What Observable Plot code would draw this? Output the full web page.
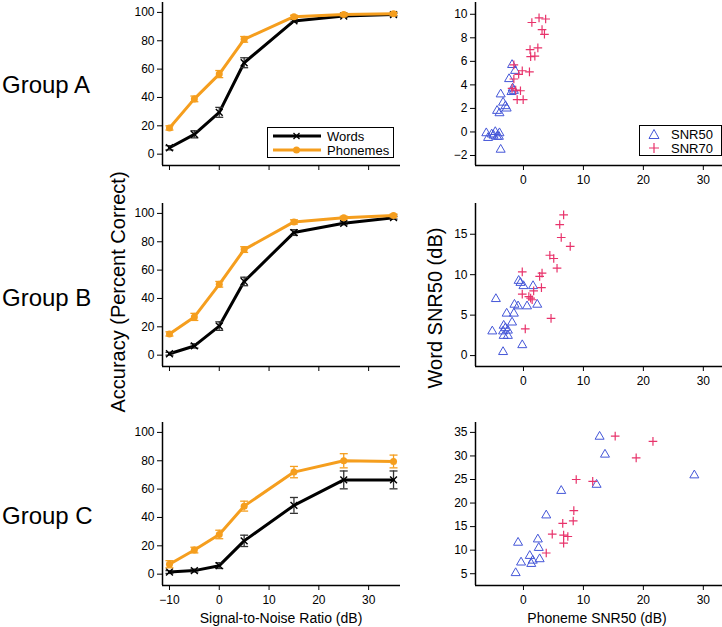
<!DOCTYPE html>
<html><head><meta charset="utf-8">
<script src="https://cdn.jsdelivr.net/npm/d3@7"></script>
<script src="https://cdn.jsdelivr.net/npm/@observablehq/plot@0.6"></script>
<style>
body{margin:0;background:#fff;font-family:"Liberation Sans",Arial,sans-serif;}
#wrap{position:relative;width:722px;height:627px;overflow:hidden;background:#fff;}
.panel{position:absolute;}
.lbl{position:absolute;color:#000;white-space:nowrap;line-height:1;}
.legend{position:absolute;border:1.5px solid #000;background:#fff;box-sizing:border-box;font-size:13px;}
.legend .row{display:flex;align-items:center;height:14px;}
</style></head><body><div id="wrap"></div>
<script>
// ---------- data ----------
const snr = [-10, -5, 0, 5, 15, 25, 35];
const groupNames = ["Group A", "Group B", "Group C"];

const wordsA = [4.5, 14, 29.5, 64.5, 94, 97.5, 98.5];
const wordsErrA = [1.5, 2.5, 3.5, 3.5, 1, 1, 1];
const phonA = [18.5, 39, 56.5, 81, 97, 98.5, 99];
const phonErrA = [1.5, 2, 2.5, 2, 1, 1, 1];

const wordsB = [1, 6.5, 20.5, 52, 86.5, 93, 97];
const wordsErrB = [1, 1.5, 3, 3, 2, 1, 1];
const phonB = [15, 27, 50, 74.5, 94, 97, 98.5];
const phonErrB = [1.5, 2.5, 2, 2, 1.5, 1, 1];

const wordsC = [1.5, 2.5, 6, 23.5, 48.5, 66.5, 66.5];
const wordsErrC = [1, 1, 2, 4, 5.6, 6.3, 6.3];
const phonC = [7, 17, 28, 48, 72, 80, 79.5];
const phonErrC = [2.5, 2, 3, 3.5, 4, 5, 4.5];

// Right column: phoneme SNR50 (x) vs word SNR (y)
const aSnr50X = [-6.2, -5.9, -5.3, -5.0, -4.7, -4.4, -4.1, -4.0, -3.8, -4.4, -4.0, -3.4, -3.0, -2.8, -3.8, -2.4, -1.8, -1.6, -2.0, -1.9, -1.4];
const aSnr50Y = [-0.1, -0.5, -0.2, -0.3, 0.0, -0.4, -0.4, -0.1, -1.5, 1.8, 1.6, 2.5, 2.2, 2.0, 3.2, 4.5, 3.7, 3.5, 3.4, 5.7, 5.2];
const aSnr70X = [1.4, 2.6, 3.7, 3.1, 3.5, 1.1, 2.4, 1.2, 1.9, -1.6, -0.2, 1.0, -0.8, -1.6, -1.9, -0.5, -1.05, -0.05, -1.3];
const aSnr70Y = [9.3, 9.7, 9.6, 8.7, 8.3, 7.0, 7.15, 6.4, 6.45, 5.7, 5.2, 5.1, 4.9, 4.5, 3.7, 3.5, 2.75, 2.75, 3.55];

const bSnr50X = [-4.6, -5.2, -3.4, -0.2, -2.8, -1.6, -1.9, -3.3, -3.0, -3.4, -2.6, -3.3, -2.6, -1.5, -0.9, 0.6, 2.3, -0.8, -0.5, 0.0, 1.6];
const bSnr50Y = [7.0, 3.0, 0.45, 1.3, 5.2, 5.2, 4.1, 3.7, 3.4, 3.0, 3.1, 2.45, 2.45, 6.3, 6.1, 6.1, 6.3, 9.25, 9.0, 8.6, 8.6];
const bSnr70X = [6.7, 6.05, 6.3, 7.8, 4.4, 5.05, 5.6, -0.2, 3.1, 2.7, 3.0, 1.7, -0.2, 0.9, 1.2, 1.45, 4.6, 0.3];
const bSnr70Y = [17.4, 16.2, 14.6, 13.5, 12.4, 12.0, 10.8, 10.35, 10.2, 9.8, 8.4, 8.0, 7.6, 7.3, 7.1, 6.9, 4.6, 3.3];

const cSnr50X = [12.7, 13.6, 28.5, 12.2, 6.3, 3.8, -0.9, 2.4, 2.55, 1.05, 1.55, 2.7, 1.3, -0.4, -1.3];
const cSnr50Y = [34.1, 30.3, 25.9, 23.9, 22.6, 17.4, 11.6, 12.3, 10.5, 8.8, 7.8, 8.1, 7.1, 7.4, 5.15];
const cSnr70X = [15.3, 21.6, 18.8, 8.8, 11.55, 8.4, 8.3, 6.55, 4.8, 6.7, 7.4, 6.7, 3.8];
const cSnr70Y = [34.2, 33.1, 29.6, 25.0, 24.6, 18.4, 16.2, 15.7, 13.4, 13.2, 12.9, 11.5, 9.4];

// axis ticks / domains
const leftXTicks = [-10, 0, 10, 20, 30];
const leftYTicks = [0, 20, 40, 60, 80, 100];
const rightXTicks = [0, 10, 20, 30];
const rightYTicksA = [-2, 0, 2, 4, 6, 8, 10];
const rightYTicksB = [0, 5, 10, 15];
const rightYTicksC = [5, 10, 15, 20, 25, 30, 35];
const leftXDomain = [-11.4, 36.4];
const leftYDomain = [-8, 107];
const rightXDomain = [-8, 33.2];
const rightYDomainA = [-2.85, 11];
const rightYDomainB = [-1.35, 18.8];
const rightYDomainC = [2.5, 37.1];

// ---------- styling ----------
const ORANGE = "#F59E1E";
const BLUE = "#4456D8";
const PINK = "#E8336B";
const FONT = "'Liberation Sans', Arial, sans-serif";
const cap = {draw(ctx, size) { const w = Math.sqrt(size / Math.PI); ctx.moveTo(-w, 0); ctx.lineTo(w, 0); }};

const rowTops = [-4, 197, 416];
const wrap = document.getElementById("wrap");

function place(node, left, top) {
  node.classList.add("panel");
  node.style.left = left + "px";
  node.style.top = top + "px";
  wrap.appendChild(node);
}

function leftPanel(words, wErr, phon, pErr, showLabels) {
  const w = snr.map((x, i) => ({x, y: words[i], lo: words[i] - wErr[i], hi: words[i] + wErr[i]}));
  const p = snr.map((x, i) => ({x, y: phon[i], lo: phon[i] - pErr[i], hi: phon[i] + pErr[i]}));
  return Plot.plot({
    width: 285, height: 205, marginLeft: 40, marginRight: 7, marginTop: 6, marginBottom: 36,
    style: {fontFamily: FONT, fontSize: "12px", color: "black", background: "transparent", overflow: "visible"},
    x: {domain: leftXDomain}, y: {domain: leftYDomain},
    marks: [
      Plot.axisY({ticks: leftYTicks, tickSize: 5, tickPadding: 3, label: null, fontSize: 12}),
      Plot.axisX({ticks: leftXTicks, tickSize: 5, tickPadding: 5, label: null, fontSize: 12,
        tickFormat: showLabels ? (d => d < 0 ? "\u2212" + Math.abs(d) : String(d)) : () => ""}),
      Plot.ruleX([leftXDomain[0]], {stroke: "black", strokeWidth: 1.5}),
      Plot.ruleY([leftYDomain[0]], {stroke: "black", strokeWidth: 1.5}),
      Plot.line(w, {x: "x", y: "y", stroke: "black", strokeWidth: 3}),
      Plot.ruleX(w, {x: "x", y1: "lo", y2: "hi", stroke: "#333", strokeWidth: 1.3}),
      Plot.dot(w, {x: "x", y: "lo", symbol: cap, r: 4, stroke: "#333", strokeWidth: 1.3}),
      Plot.dot(w, {x: "x", y: "hi", symbol: cap, r: 4, stroke: "#333", strokeWidth: 1.3}),
      Plot.dot(w, {x: "x", y: "y", symbol: "times", r: 3.2, stroke: "black", strokeWidth: 1.4}),
      Plot.line(p, {x: "x", y: "y", stroke: ORANGE, strokeWidth: 3}),
      Plot.ruleX(p, {x: "x", y1: "lo", y2: "hi", stroke: ORANGE, strokeWidth: 1.3}),
      Plot.dot(p, {x: "x", y: "lo", symbol: cap, r: 4, stroke: ORANGE, strokeWidth: 1.3}),
      Plot.dot(p, {x: "x", y: "hi", symbol: cap, r: 4, stroke: ORANGE, strokeWidth: 1.3}),
      Plot.dot(p, {x: "x", y: "y", r: 3.5, fill: ORANGE})
    ]
  });
}

function rightPanel(x50, y50, x70, y70, yDomain, yTicks) {
  const s50 = x50.map((x, i) => ({x, y: y50[i]}));
  const s70 = x70.map((x, i) => ({x, y: y70[i]}));
  return Plot.plot({
    width: 282, height: 205, marginLeft: 35, marginRight: 0, marginTop: 6, marginBottom: 36,
    style: {fontFamily: FONT, fontSize: "12px", color: "black", background: "transparent", overflow: "visible"},
    x: {domain: rightXDomain}, y: {domain: yDomain},
    marks: [
      Plot.axisY({ticks: yTicks, tickSize: 5, tickPadding: 3, label: null, fontSize: 12}),
      Plot.axisX({ticks: rightXTicks, tickSize: 5, tickPadding: 5, label: null, fontSize: 12}),
      Plot.ruleX([rightXDomain[0]], {stroke: "black", strokeWidth: 1.5}),
      Plot.ruleY([yDomain[0]], {stroke: "black", strokeWidth: 1.5}),
      Plot.dot(s50, {x: "x", y: "y", symbol: "triangle2", r: 4.3, stroke: BLUE, strokeWidth: 1}),
      Plot.dot(s70, {x: "x", y: "y", symbol: "plus", r: 2.9, stroke: PINK, strokeWidth: 1.2})
    ]
  });
}

const lefts = [
  leftPanel(wordsA, wordsErrA, phonA, phonErrA, false),
  leftPanel(wordsB, wordsErrB, phonB, phonErrB, false),
  leftPanel(wordsC, wordsErrC, phonC, phonErrC, true)
];
const rights = [
  rightPanel(aSnr50X, aSnr50Y, aSnr70X, aSnr70Y, rightYDomainA, rightYTicksA),
  rightPanel(bSnr50X, bSnr50Y, bSnr70X, bSnr70Y, rightYDomainB, rightYTicksB),
  rightPanel(cSnr50X, cSnr50Y, cSnr70X, cSnr70Y, rightYDomainC, rightYTicksC)
];
lefts.forEach((n, i) => place(n, 122, rowTops[i]));
rights.forEach((n, i) => place(n, 440, rowTops[i]));

function label(text, css) {
  const d = document.createElement("div");
  d.className = "lbl";
  d.textContent = text;
  Object.assign(d.style, css);
  wrap.appendChild(d);
  return d;
}
const groupCenters = [85, 298, 516];
groupNames.forEach((g, i) => label(g, {left: "2px", top: (groupCenters[i] - 12) + "px", fontSize: "24px"}));

label("Accuracy (Percent Correct)", {left: "118px", top: "292px", fontSize: "20px", transform: "translate(-50%,-50%) rotate(-90deg)"});
label("Word SNR50 (dB)", {left: "435px", top: "308px", fontSize: "20px", transform: "translate(-50%,-50%) rotate(-90deg)"});
label("Signal-to-Noise Ratio (dB)", {left: "281px", top: "618px", fontSize: "14px", transform: "translate(-50%,-50%)"});
label("Phoneme SNR50 (dB)", {left: "597px", top: "618px", fontSize: "14px", transform: "translate(-50%,-50%)"});

// legends
function legend(left, top, width, items) {
  const box = document.createElement("div");
  box.className = "legend";
  Object.assign(box.style, {left: left + "px", top: top + "px", width: width + "px", padding: "1px 0 0 3px"});
  items.forEach(it => {
    const row = document.createElement("div");
    row.className = "row";
    row.innerHTML = it.svg + `<span style="margin-left:${it.gap}px">${it.name}</span>`;
    box.appendChild(row);
  });
  wrap.appendChild(box);
}
legend(267, 127, 127, [
  {name: "Words", gap: 6, svg: `<svg width="50" height="14"><line x1="2" y1="7" x2="50" y2="7" stroke="black" stroke-width="3"/><path d="M22.5,4L28.5,10M28.5,4L22.5,10" stroke="black" stroke-width="1.3"/></svg>`},
  {name: "Phonemes", gap: 6, svg: `<svg width="50" height="14"><line x1="2" y1="7" x2="50" y2="7" stroke="${ORANGE}" stroke-width="3"/><circle cx="25.5" cy="7" r="3.5" fill="${ORANGE}"/></svg>`}
]);
legend(639, 125, 83, [
  {name: "SNR50", gap: 6, svg: `<svg width="22" height="14"><path d="M11,2.5L16,11.5L6,11.5Z" fill="none" stroke="${BLUE}" stroke-width="1"/></svg>`},
  {name: "SNR70", gap: 6, svg: `<svg width="22" height="14"><path d="M11,2V12M6,7H16" stroke="${PINK}" stroke-width="1.2"/></svg>`}
]);
</script></body></html>
